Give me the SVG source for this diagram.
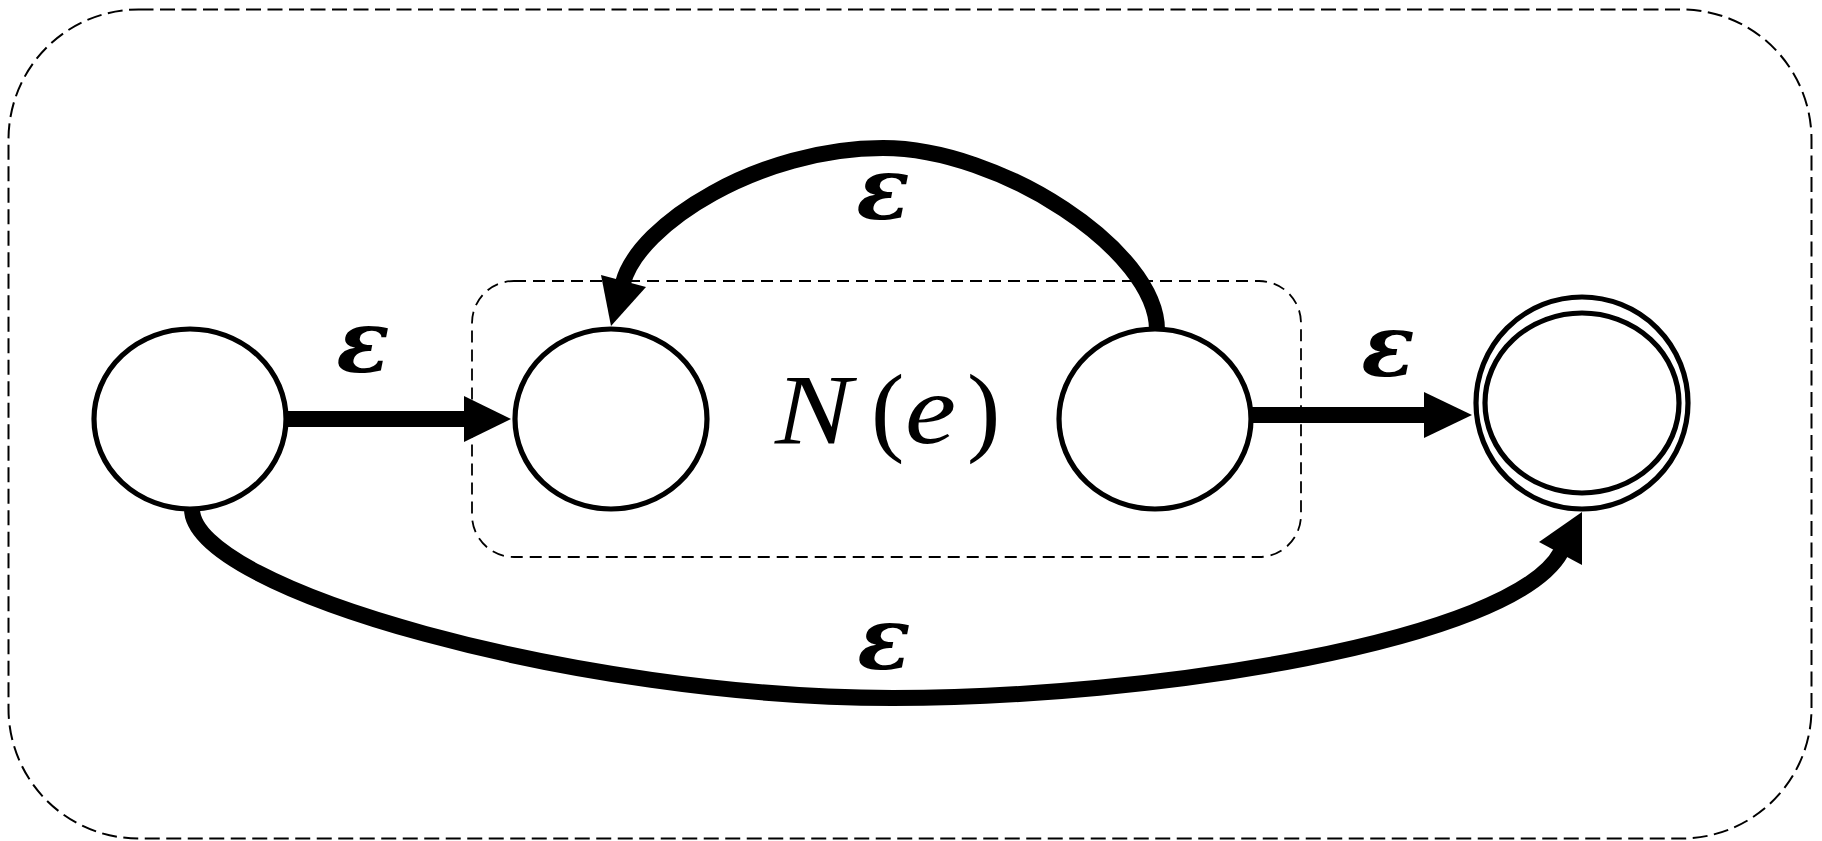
<svg xmlns="http://www.w3.org/2000/svg" width="1822" height="841" viewBox="0 0 1822 841">
<style>
.frame{fill:none;stroke:#000;stroke-width:2;stroke-dasharray:15 6.5}
.inner{fill:none;stroke:#000;stroke-width:1.8;stroke-dasharray:12 7}
.state{fill:#fff;stroke:#000;stroke-width:5.2}
.edge{fill:none;stroke:#000;stroke-width:16}
.head{fill:#000;stroke:none}
.eps{font-family:"DejaVu Serif",serif;font-style:italic;font-weight:bold;font-size:88px;fill:#000;text-anchor:middle}
.lbl{font-family:"Liberation Serif","Times New Roman",serif;font-size:100px;fill:#000}
.it{font-style:italic}
</style>
<rect class="frame" x="8.5" y="9.5" width="1803" height="829" rx="130" ry="130"/>
<g id="box">
<rect class="inner" x="472" y="281" width="829" height="276" rx="42" ry="42"/>
<text class="lbl it" transform="translate(775,443) scale(1.15,1)" x="0" y="0">N</text>
<text class="lbl" x="871" y="443">(</text>
<text class="lbl it" transform="translate(905,443) scale(1.15,1)" x="0" y="0">e</text>
<text class="lbl" x="967" y="443">)</text>
</g>
<g id="connectors">
<line class="edge" x1="286" y1="419" x2="466" y2="419"/>
<polygon class="head" points="464,396 511,419 464,442"/>
<line class="edge" x1="1248" y1="415" x2="1426" y2="415"/>
<polygon class="head" points="1424,392 1472,415 1424,438"/>
<path class="edge" d="M1157,330 C1157,250 1000,148 883,148 C760,148 638.6,223.4 623,283"/>
<polygon class="head" points="601,275 611,326 646,287"/>
<path class="edge" d="M192,509 C192,590 580,698 893,698 C1150,698 1513,641 1561,552"/>
<polygon class="head" points="1539,542 1582,512 1582,565"/>
<text class="eps" x="363" y="372">ε</text>
<text class="eps" x="1388" y="376">ε</text>
<text class="eps" x="883" y="219">ε</text>
<text class="eps" x="884" y="669">ε</text>
</g>
<g id="s0"><ellipse class="state" cx="190" cy="419" rx="96" ry="90"/></g>
<g id="s1"><ellipse class="state" cx="611" cy="419" rx="96" ry="90"/></g>
<g id="s2"><ellipse class="state" cx="1155" cy="419" rx="96" ry="90"/></g>
<g id="s3"><circle class="state" cx="1582" cy="403" r="106"/><ellipse class="state" cx="1582" cy="403" rx="97" ry="90"/></g>
</svg>
